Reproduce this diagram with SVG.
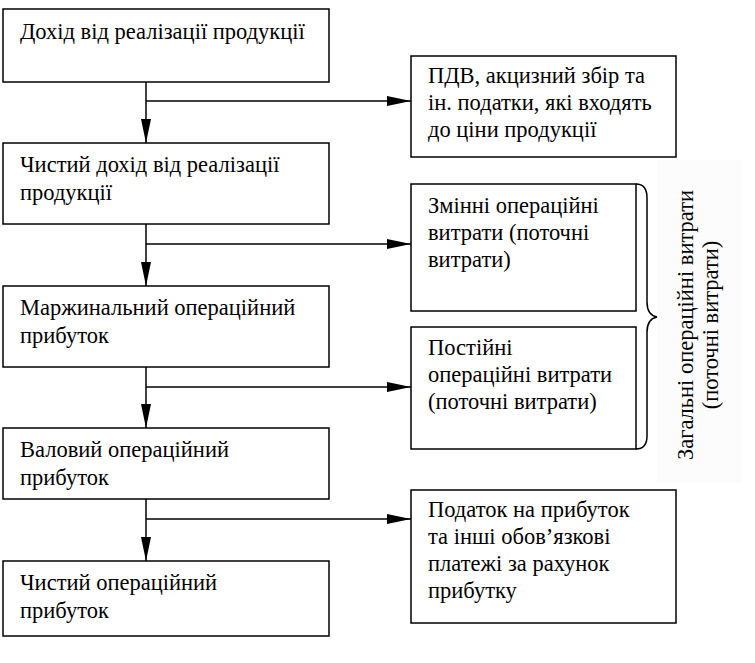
<svg xmlns="http://www.w3.org/2000/svg" width="755" height="663" viewBox="0 0 755 663">
<style>
.box{fill:#fff;stroke:#000;stroke-width:1.5}
.t{font-family:"Liberation Serif","Times New Roman",serif;font-size:22.5px;fill:#000}
.c{stroke:#000;stroke-width:1.5;fill:none}
</style>
<defs>
<marker id="ah" viewBox="0 0 24 10" refX="24" refY="5" markerWidth="24" markerHeight="10" markerUnits="userSpaceOnUse" orient="auto">
<path d="M0,0 L24,5 L0,10 Z" fill="#000"/>
</marker>
</defs>
<rect width="755" height="663" fill="#fff"/>
<rect x="657" y="160" width="85" height="323" fill="#fcfcfc"/>
<g id="connectors">
<path class="c" d="M146,82 V143" marker-end="url(#ah)"/>
<path class="c" d="M146,101 H411" marker-end="url(#ah)"/>
<path class="c" d="M146,224 V286" marker-end="url(#ah)"/>
<path class="c" d="M146,244 H411" marker-end="url(#ah)"/>
<path class="c" d="M146,367 V428" marker-end="url(#ah)"/>
<path class="c" d="M146,387 H411" marker-end="url(#ah)"/>
<path class="c" d="M146,499 V561" marker-end="url(#ah)"/>
<path class="c" d="M146,519 H411" marker-end="url(#ah)"/>
</g>
<g id="n1"><rect class="box" x="3" y="9" width="326" height="73"/><text class="t" x="20" y="39">Дохід від реалізації продукції</text></g>
<g id="n2"><rect class="box" x="3" y="143" width="326" height="81"/><text class="t" x="20" y="172">Чистий дохід від реалізації</text><text class="t" x="20" y="200">продукції</text></g>
<g id="n3"><rect class="box" x="3" y="286" width="326" height="81"/><text class="t" x="20" y="315">Маржинальний операційний</text><text class="t" x="20" y="343">прибуток</text></g>
<g id="n4"><rect class="box" x="3" y="428" width="326" height="71"/><text class="t" x="20" y="457">Валовий операційний</text><text class="t" x="20" y="485">прибуток</text></g>
<g id="n5"><rect class="box" x="3" y="561" width="326" height="75"/><text class="t" x="20" y="590">Чистий операційний</text><text class="t" x="20" y="618">прибуток</text></g>
<g id="r1"><rect class="box" x="411" y="56" width="265" height="101"/><text class="t" x="428" y="83">ПДВ, акцизний збір та</text><text class="t" x="428" y="110">ін. податки, які входять</text><text class="t" x="428" y="137">до ціни продукції</text></g>
<g id="r2"><rect class="box" x="411" y="184" width="225" height="127"/><text class="t" x="428" y="213">Змінні операційні</text><text class="t" x="428" y="240">витрати (поточні</text><text class="t" x="428" y="267">витрати)</text></g>
<g id="r3"><rect class="box" x="411" y="327" width="225" height="122"/><text class="t" x="428" y="355">Постійні</text><text class="t" x="428" y="382">операційні витрати</text><text class="t" x="428" y="409">(поточні витрати)</text></g>
<g id="r4"><rect class="box" x="411" y="490" width="265" height="133"/><text class="t" x="428" y="517">Податок на прибуток</text><text class="t" x="428" y="544">та інші обов’язкові</text><text class="t" x="428" y="571">платежі за рахунок</text><text class="t" x="428" y="598">прибутку</text></g>
<g id="brace">
<path class="c" d="M636,184 Q647,184 647,198 V302 Q647,315 657,317 Q647,319 647,332 V436 Q647,449 636,449"/>
<text class="t" transform="translate(693,325) rotate(-90)" text-anchor="middle">Загальні операційні витрати</text>
<text class="t" transform="translate(718,325) rotate(-90)" text-anchor="middle">(поточні витрати)</text>
</g>
</svg>
